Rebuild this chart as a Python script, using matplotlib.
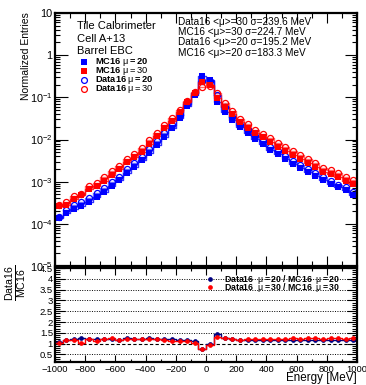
import numpy as np
import matplotlib
matplotlib.use("Agg")
import matplotlib.pyplot as plt
from matplotlib.ticker import FixedLocator, MultipleLocator, LogLocator, NullFormatter, FixedFormatter

plt.rcParams['font.family'] = ['Liberation Sans', 'DejaVu Sans']
plt.rcParams['mathtext.fontset'] = 'custom'
plt.rcParams['mathtext.rm'] = 'Liberation Sans'
plt.rcParams['mathtext.bf'] = 'Liberation Sans:bold'
plt.rcParams['mathtext.it'] = 'Liberation Sans:italic'

# ---- data ----
bin_edges = np.arange(-1000, 1001, 50)
bin_centers = np.arange(-975, 1000, 50)

mc20 = [1.36e-4, 1.78e-4, 2.29e-4, 2.65e-4, 3.35e-4, 4.41e-4, 5.78e-4, 7.9e-4, 1.10e-3, 1.62e-3,
        2.26e-3, 3.27e-3, 4.86e-3, 7.41e-3, 1.17e-2, 1.84e-2, 3.18e-2, 6.17e-2, 0.1135, 0.321,
        0.258, 0.0789, 0.0457, 0.0290, 0.0195, 0.0145, 0.0101, 7.83e-3, 5.64e-3, 4.57e-3,
        3.45e-3, 2.63e-3, 2.15e-3, 1.73e-3, 1.39e-3, 1.10e-3, 8.81e-4, 7.35e-4, 6.35e-4, 4.83e-4]
mc30 = [2.65e-4, 2.80e-4, 3.82e-4, 4.91e-4, 6.59e-4, 8.04e-4, 1.05e-3, 1.44e-3, 2.00e-3, 2.88e-3,
        3.80e-3, 5.14e-3, 7.83e-3, 1.21e-2, 1.84e-2, 2.79e-2, 4.42e-2, 7.59e-2, 0.129, 0.236,
        0.196, 0.0948, 0.0603, 0.0403, 0.0265, 0.0191, 0.0140, 0.0113, 8.91e-3, 6.76e-3,
        5.43e-3, 4.30e-3, 3.45e-3, 2.72e-3, 2.19e-3, 1.73e-3, 1.49e-3, 1.27e-3, 1.05e-3, 8.67e-4]
data20 = [1.47e-4, 2.10e-4, 2.75e-4, 3.31e-4, 4.02e-4, 5.38e-4, 6.94e-4, 9.64e-4, 1.30e-3, 2.03e-3,
          2.76e-3, 3.92e-3, 6.03e-3, 9.04e-3, 1.40e-2, 2.21e-2, 3.75e-2, 7.10e-2, 0.127, 0.247,
          0.250, 0.114, 0.0585, 0.0348, 0.0224, 0.0170, 0.0118, 9.24e-3, 6.49e-3, 5.35e-3,
          4.07e-3, 3.02e-3, 2.52e-3, 2.04e-3, 1.60e-3, 1.30e-3, 1.03e-3, 8.45e-4, 7.43e-4, 5.70e-4]
data30 = [2.78e-4, 3.22e-4, 4.51e-4, 5.16e-4, 8.04e-4, 9.09e-4, 1.26e-3, 1.83e-3, 2.36e-3, 3.51e-3,
          4.56e-3, 6.27e-3, 9.63e-3, 1.45e-2, 2.17e-2, 3.15e-2, 4.99e-2, 8.35e-2, 0.135, 0.172,
          0.186, 0.125, 0.0754, 0.0484, 0.0313, 0.0229, 0.0168, 0.0138, 1.09e-2, 8.31e-3,
          6.62e-3, 5.38e-3, 4.24e-3, 3.40e-3, 2.74e-3, 2.13e-3, 1.86e-3, 1.59e-3, 1.29e-3, 1.10e-3]

stats_lines = ["Data16 <\u03bc>=30 \u03c3=239.6 MeV",
               "MC16 <\u03bc>=30 \u03c3=224.7 MeV",
               "Data16 <\u03bc>=20 \u03c3=195.2 MeV",
               "MC16 <\u03bc>=20 \u03c3=183.3 MeV"]
info_lines = ["Tile Calorimeter", "Cell A+13", "Barrel EBC"]
ytick_vals = [1e-5, 1e-4, 1e-3, 1e-2, 1e-1, 1, 10]
ytick_labels = [r"$10^{-5}$", r"$10^{-4}$", r"$10^{-3}$", r"$10^{-2}$", r"$10^{-1}$", "1", "10"]

mc20 = np.array(mc20); mc30 = np.array(mc30)
data20 = np.array(data20); data30 = np.array(data30)
ratio20 = data20 / mc20
ratio30 = data30 / mc30

W, H = 366, 385
fig = plt.figure(figsize=(W / 100, H / 100), dpi=100)
L = 55 / W; R = 357 / W
ax = fig.add_axes([L, 1 - 266 / H, R - L, (266 - 13) / H])
axr = fig.add_axes([L, 1 - 362 / H, R - L, (362 - 268) / H])

BLUE = '#0000ff'; RED = '#ff0000'; NAVY = '#000080'

def steps(a, vals, color, lw=1.0, alpha=1.0):
    v = np.concatenate([vals, [vals[-1]]])
    a.step(bin_edges, v, where='post', color=color, lw=lw, alpha=alpha)

steps(ax, mc20, BLUE, 1.0, 0.8)
steps(ax, data20, BLUE, 1.0, 0.6)
steps(ax, mc30, RED, 1.0, 0.8)
steps(ax, data30, RED, 1.0, 0.6)
ms = 4.4
ax.plot(bin_centers, mc20, 's', color=BLUE, ms=ms, mew=0)
ax.plot(bin_centers, data20, 'o', mfc='none', mec=BLUE, ms=ms, mew=0.9)
ax.plot(bin_centers, mc30, 's', color=RED, ms=ms, mew=0)
ax.plot(bin_centers, data30, 'o', mfc='none', mec=RED, ms=ms, mew=0.9)

ax.set_yscale('log')
ax.set_xlim(-1000, 1000)
ax.set_ylim(1e-5, 10)
ax.yaxis.set_major_locator(FixedLocator(ytick_vals))
ax.yaxis.set_major_formatter(FixedFormatter(ytick_labels))
ax.yaxis.set_minor_locator(LogLocator(base=10, subs=np.arange(2, 10)))
ax.yaxis.set_minor_formatter(NullFormatter())
ax.xaxis.set_major_locator(MultipleLocator(200))
ax.xaxis.set_minor_locator(MultipleLocator(100))
ax.tick_params(axis='x', labelbottom=False)

for a in (ax, axr):
    a.tick_params(which='both', direction='in', top=True, right=True, width=0.8)
    a.tick_params(which='major', length=7)
    a.tick_params(which='minor', length=3.5)
    for s in a.spines.values():
        s.set_linewidth(1.6)
ax.tick_params(axis='y', labelsize=7.8, pad=2)
ax.tick_params(axis='y', which='major', length=9)

# info text
for i, t in enumerate(info_lines):
    fig.text(77 / W, 1 - (26 + 12.5 * i) / H, t, fontsize=8.0, ha='left', va='center')
for i, t in enumerate(stats_lines):
    fig.text(178 / W, 1 - (21.7 + 10.3 * i) / H, t, fontsize=7.2, ha='left', va='center')

# legend entries
leg = [('s', BLUE, True, r"$\mathbf{MC16}\ \mathrm{μ}\mathbf{=20}$"),
       ('s', RED, True, r"$\mathbf{MC16}\ \mathrm{μ}\mathit{=30}$"),
       ('o', BLUE, False, r"$\mathbf{Data16}\ \mathrm{μ}\mathbf{=20}$"),
       ('o', RED, False, r"$\mathbf{Data16}\ \mathrm{μ}\mathit{=30}$")]
for i, (m, c, filled, lab) in enumerate(leg):
    yy = 1 - (62.3 + 8.8 * i) / H
    fig.lines.append(plt.Line2D([84 / W], [yy], marker=m, color=c, mfc=c if filled else 'none',
                                mec=c, ms=4.2, mew=0 if filled else 0.9, transform=fig.transFigure))
    fig.text(95 / W, yy, lab, fontsize=6.7, ha='left', va='center')

fig.text(26 / W, 1 - 12 / H, "Normalized Entries", rotation=90, fontsize=7.5, ha='center', va='top')

# ratio panel
for yv in [0.5, 1.5, 2, 2.5, 3, 3.5, 4]:
    axr.axhline(yv, color='black', lw=0.7, ls=(0, (1, 1.5)))
axr.axhline(1.0, color='black', lw=0.8, ls=(0, (3, 2)))
steps(axr, ratio20, NAVY, 1.0)
steps(axr, ratio30, RED, 1.0)
axr.plot(bin_centers, ratio20, 'o', color=NAVY, ms=3.4, mew=0)
axr.plot(bin_centers, ratio30, 'o', color=RED, ms=3.4, mew=0)
axr.set_xlim(-1000, 1000)
axr.set_ylim(0.15, 4.5)
axr.yaxis.set_major_locator(MultipleLocator(0.5))
axr.yaxis.set_minor_locator(MultipleLocator(0.1))
axr.xaxis.set_major_locator(MultipleLocator(200))
axr.xaxis.set_minor_locator(MultipleLocator(100))
axr.yaxis.set_major_formatter(matplotlib.ticker.FuncFormatter(lambda v, p: f"{v:g}"))
axr.tick_params(axis='y', labelsize=6.8, pad=1.5)
axr.tick_params(axis='x', labelsize=6.8, pad=2)
axr.tick_params(axis='x', which='major', length=5)
axr.tick_params(axis='x', which='minor', length=2.5)

rleg = [(NAVY, r"$\mathbf{Data16}\ \ \mathrm{μ}\mathbf{=20\ /\ MC16}\ \ \mathrm{μ}\mathbf{=20}$"),
        (RED, r"$\mathbf{Data16}\ \ \mathrm{μ}\mathbf{=30\ /\ MC16}\ \ \mathrm{μ}\mathbf{=30}$")]
for i, (c, lab) in enumerate(rleg):
    yy = 1 - (279 + 8 * i) / H
    fig.lines.append(plt.Line2D([210 / W], [yy], marker='o', color=c, ms=3.4, mew=0,
                                transform=fig.transFigure))
    fig.text(224 / W, yy, lab, fontsize=6.3, ha='left', va='center')

fig.text(17 / W, 1 - 283 / H, r"$\frac{\mathrm{Data16}}{\mathrm{MC16}}$", rotation=90,
         fontsize=11, ha='center', va='center')
fig.text(357 / W, 1 - 378 / H, "Energy [MeV]", fontsize=8.4, ha='right', va='center')

fig.savefig("out.png", dpi=100)
